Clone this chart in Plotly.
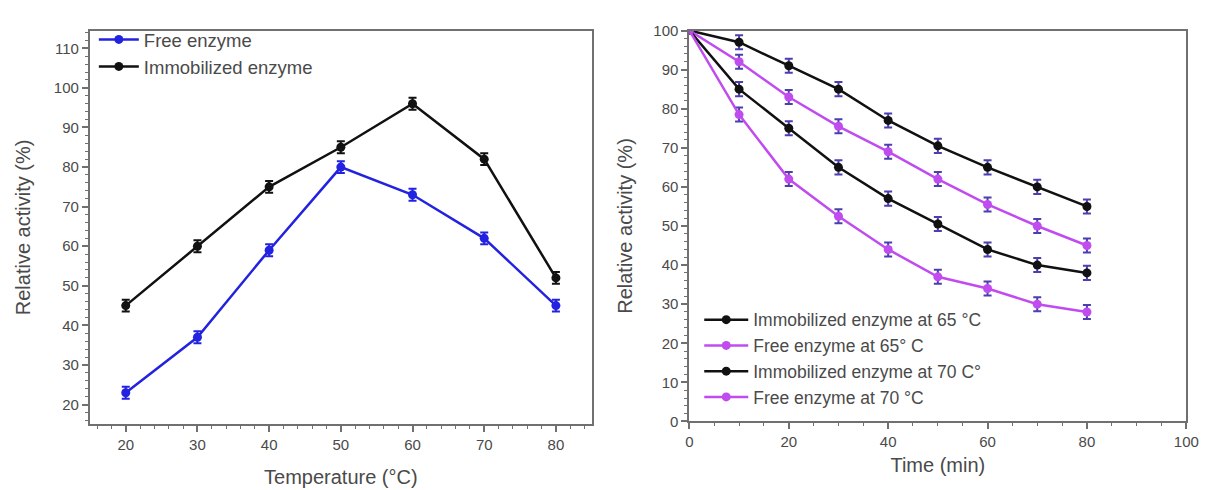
import plotly.graph_objects as go

# ---- Left panel data ----
temperature = [20, 30, 40, 50, 60, 70, 80]
free_temp = [23, 37, 59, 80, 73, 62, 45]
free_temp_err = [1.5, 1.5, 1.5, 1.5, 1.5, 1.5, 1.5]
immob_temp = [45, 60, 75, 85, 96, 82, 52]
immob_temp_err = [1.5, 1.5, 1.5, 1.5, 1.5, 1.5, 1.5]

# ---- Right panel data ----
time_min = [0, 10, 20, 30, 40, 50, 60, 70, 80]
immob_65 = [100, 97, 91, 85, 77, 70.5, 65, 60, 55]
free_65 = [100, 92, 83, 75.5, 69, 62, 55.5, 50, 45]
immob_70 = [100, 85, 75, 65, 57, 50.5, 44, 40, 38]
free_70 = [100, 78.5, 62, 52.5, 44, 37, 34, 30, 28]
stab_err = [0, 1.8, 1.8, 1.8, 1.8, 1.8, 1.8, 1.8, 1.8]

FONT = "Liberation Sans, Arial, sans-serif"
TXT = "#4a4a4a"
BLUE = "#2222e0"
BLACK = "#111111"
VIOLET = "#c04cf0"
ERRC = "#4b3fb0"

fig = go.Figure()

def add(x, y, err, name, color, xa, ya, legend, errcolor):
    fig.add_trace(go.Scatter(
        x=x, y=y, name=name, mode="lines+markers",
        line=dict(color=color, width=2.5),
        marker=dict(color=color, size=9, symbol="circle"),
        error_y=dict(type="data", array=err, visible=True, color=errcolor,
                     thickness=2, width=4),
        xaxis=xa, yaxis=ya, legend=legend,
    ))

add(temperature, free_temp, free_temp_err, "Free enzyme", BLUE, "x", "y", "legend", BLUE)
add(temperature, immob_temp, immob_temp_err, "Immobilized enzyme", BLACK, "x", "y", "legend", BLACK)

add(time_min, immob_65, stab_err, "Immobilized enzyme at 65 °C", BLACK, "x2", "y2", "legend2", ERRC)
add(time_min, free_65, stab_err, "Free enzyme at 65° C", VIOLET, "x2", "y2", "legend2", ERRC)
add(time_min, immob_70, stab_err, "Immobilized enzyme at 70 C°", BLACK, "x2", "y2", "legend2", ERRC)
add(time_min, free_70, stab_err, "Free enzyme at 70 °C", VIOLET, "x2", "y2", "legend2", ERRC)

axis_common = dict(
    showline=True, linecolor="#707070", linewidth=2, mirror=True,
    ticks="outside", ticklen=6, tickwidth=1.5, tickcolor="#707070",
    showgrid=False, zeroline=False,
    tickfont=dict(family=FONT, size=15, color=TXT),
    title_font=dict(family=FONT, size=20, color=TXT),
    minor=dict(ticks="outside", ticklen=3, tickcolor="#707070", tickwidth=1.2),
)

fig.update_layout(
    width=1214, height=490,
    margin=dict(l=0, r=0, t=0, b=0),
    paper_bgcolor="white", plot_bgcolor="white",
    font=dict(family=FONT, color=TXT),
    xaxis=dict(domain=[79/1214, 588/1214], range=[15, 85], tick0=20, dtick=10,
               title=dict(text="Temperature (°C)", standoff=18),
               anchor="y", **axis_common),
    yaxis=dict(domain=[1-422/490, 1-14/490], range=[15, 114.5], tick0=20, dtick=10,
               title=dict(text="Relative activity (%)", standoff=18),
               anchor="x", **axis_common),
    xaxis2=dict(domain=[687/1214, 1191/1214], range=[0, 100], tick0=0, dtick=20,
                title=dict(text="Time (min)", standoff=9),
                anchor="y2", **axis_common),
    yaxis2=dict(domain=[1-419/490, 1-14/490], range=[0, 100], tick0=0, dtick=10,
                title=dict(text="Relative activity (%)", standoff=15),
                anchor="x2", **axis_common),
    legend=dict(x=83/1214, y=1-4/490, xref="paper", yref="paper",
                xanchor="left", yanchor="top", bgcolor="rgba(0,0,0,0)",
                font=dict(family=FONT, size=18.5, color=TXT),
                tracegroupgap=0, itemwidth=40),
    legend2=dict(x=697/1214, y=1-295/490, xref="paper", yref="paper",
                 xanchor="left", yanchor="top", bgcolor="rgba(0,0,0,0)",
                 font=dict(family=FONT, size=17.5, color=TXT),
                 tracegroupgap=0, itemwidth=44),
    showlegend=True,
)

fig.write_html("out.html")
